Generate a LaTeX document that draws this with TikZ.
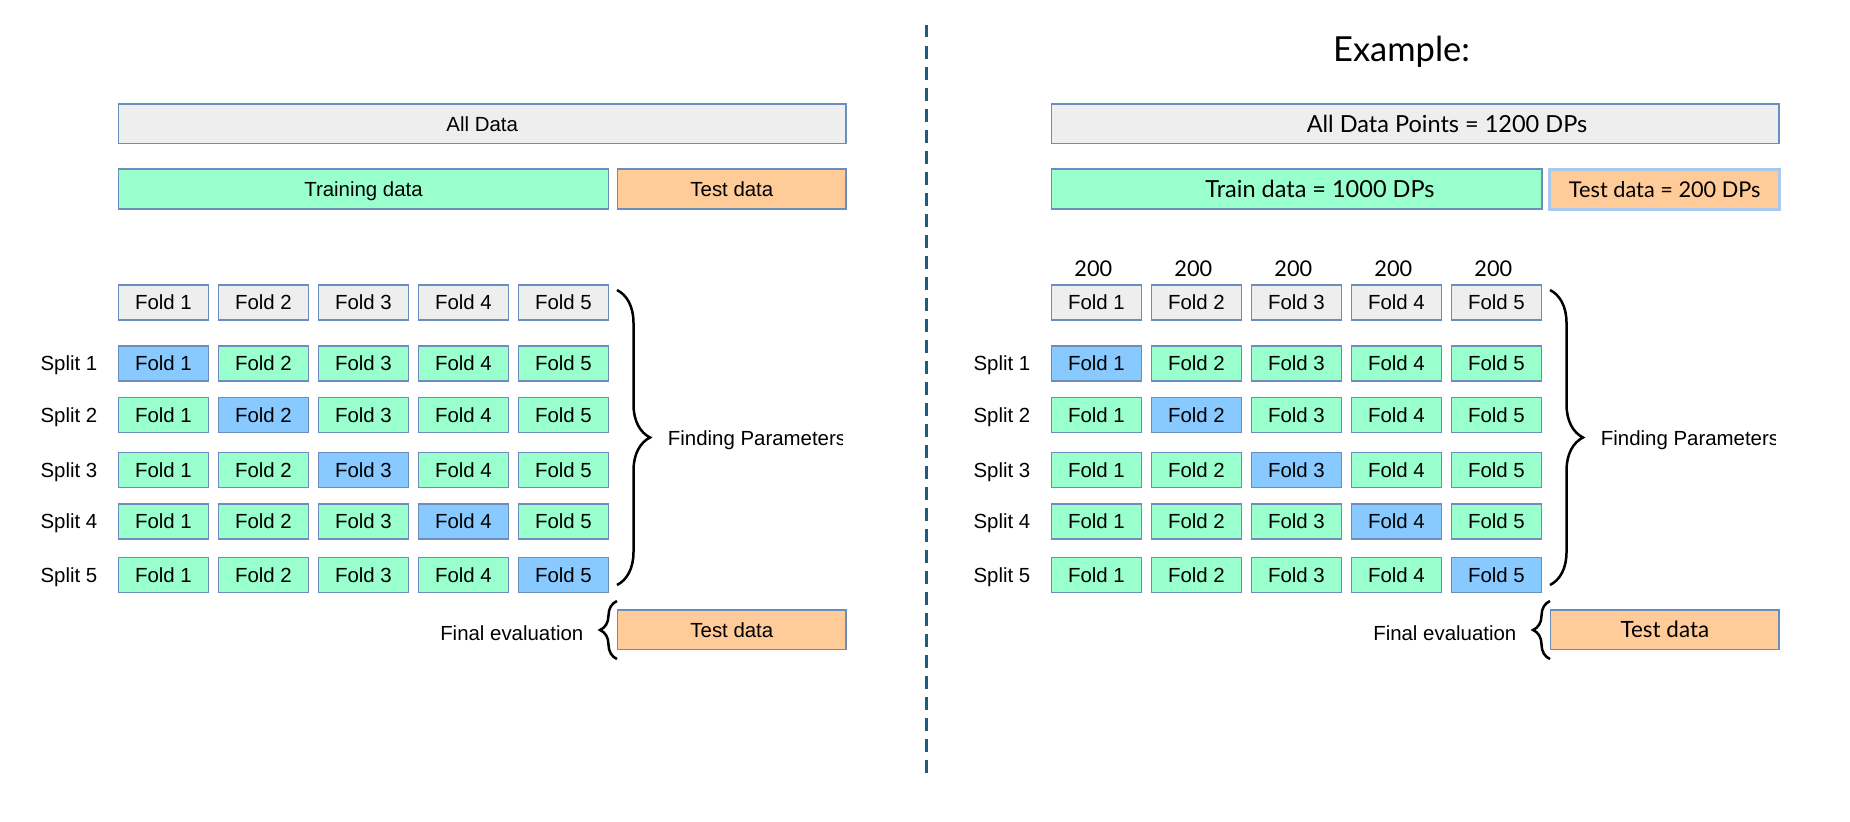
\documentclass[tikz,border=0pt]{standalone}
\usepackage{fontspec}
\setmainfont{Liberation Sans}
\newfontfamily\aptosfont{Lato}
\usetikzlibrary{decorations.pathreplacing}
\definecolor{grayfill}{HTML}{EEEEEE}
\definecolor{greenfill}{HTML}{99FFCC}
\definecolor{bluefill}{HTML}{88CAFF}
\definecolor{orangefill}{HTML}{FFCC99}
\definecolor{boxline}{HTML}{6C8EBF}
\definecolor{lightline}{HTML}{A9C8EC}
\definecolor{dashblue}{HTML}{1B5E80}
\newcommand{\arialtxt}{\fontsize{20.5}{24}\selectfont}
\newcommand{\aptosbig}{\aptosfont\fontsize{23.6}{28}\selectfont}
\newcommand{\aptosmid}{\aptosfont\fontsize{21.8}{26}\selectfont}
\tikzset{
  cell/.style={draw=boxline, line width=1.4bp, inner sep=0pt, minimum width=90bp,
    minimum height=35bp, font=\arialtxt, text height=14.7bp, text depth=0bp},
  bar/.style={cell, minimum height=39.6bp},
  lbl/.style={inner sep=0pt, font=\arialtxt, text height=14.7bp, text depth=0bp},
  alabel/.style={inner sep=0pt, font=\aptosmid, text height=15.6bp, text depth=0bp},
  blabel/.style={inner sep=0pt, font=\aptosbig, text height=17.2bp, text depth=0bp},
  curly/.style={draw, line width=2.5bp, decorate, decoration={brace, amplitude=#1}},
}
\newcommand{\cvgrid}[3]{%
\begin{scope}[xshift=#2bp]
 \foreach \c in {1,...,5}{\node[cell, fill=grayfill] (#1h\c) at ({163.45+100*(\c-1)},302.3) {Fold \c};}
 \foreach \r/\y in {1/363.3,2/415.2,3/470,4/521.5,5/575}{
   \node[lbl, anchor=east] (#1s\r) at (97.5,\y) {Split \r};
   \foreach \c in {1,...,5}{
     \ifnum\c=\r\relax\def\cellfill{bluefill}\else\def\cellfill{greenfill}\fi
     \node[cell, fill=\cellfill] (#1f\r\c) at ({163.45+100*(\c-1)},\y) {Fold \c};
   }
 }
 \draw[curly=33bp] (617,290) -- (617,585);
 \begin{scope}
  \clip (0,0) rectangle (842.5,822);
  \node[lbl, anchor=west] (#1fp) at (667.7,438.5) {Finding Parameters};
 \end{scope}
 \node[lbl, anchor=east] (#1fe) at (583.5,633) {Final evaluation};
 \draw[curly=17bp] (617,659) -- (617,601);
 \node[bar, fill=orangefill, minimum width=228.3bp, minimum height=39.3bp, font=#3] (#1fin) at (731.85,629.65) {Test data};
\end{scope}}
\begin{document}
\begin{tikzpicture}[x=1bp,y=-1bp]
\useasboundingbox (0,0) rectangle (1850,822);
\fill[white] (0,0) rectangle (1850,822);
% ---- left panel
\node[bar, fill=grayfill, minimum width=727.6bp] (lall) at (482.2,123.8) {All Data};
\node[bar, fill=greenfill, minimum width=490.2bp, minimum height=40bp] (ltrain) at (363.5,189) {Training data};
\node[bar, fill=orangefill, minimum width=228.3bp, minimum height=40bp] (ltest) at (731.85,189) {Test data};
\cvgrid{l}{0}{\arialtxt}
% ---- divider
\coordinate (dtop) at (926.3,25);
\coordinate (dbot) at (926.3,776);
\draw[dashblue, line width=3bp, dash pattern=on 12.5bp off 8.5bp] (dtop) -- (dbot);
% ---- right panel
\node[inner sep=0pt, font=\aptosfont\fontsize{34.6}{40}\selectfont, anchor=base] (ex) at (1401.5,61.7) {Example:};
\node[bar, fill=grayfill, minimum width=727.6bp] (rall) at (1415.1,123.8) {};
\node[blabel] (ralltxt) at (1447,124) {All Data Points = 1200 DPs};
\node[bar, fill=greenfill, minimum width=490.6bp, minimum height=40bp] (rtrain) at (1296.7,189) {};
\node[blabel] (rtraintxt) at (1320,189) {Train data = 1000 DPs};
\node[draw=lightline, line width=3bp, fill=orangefill, inner sep=0pt, minimum width=229.9bp,
  minimum height=39.4bp, font=\aptosmid, text height=15.6bp, text depth=0bp] (rtest) at (1664.75,189.5) {Test data = 200 DPs};
\foreach \c in {1,...,5}{\node[alabel] (rn\c) at ({1093.35+100*(\c-1)},268.3) {200};}
\cvgrid{r}{933}{\aptosfont\fontsize{22.5}{26}\selectfont}
\end{tikzpicture}
\end{document}
